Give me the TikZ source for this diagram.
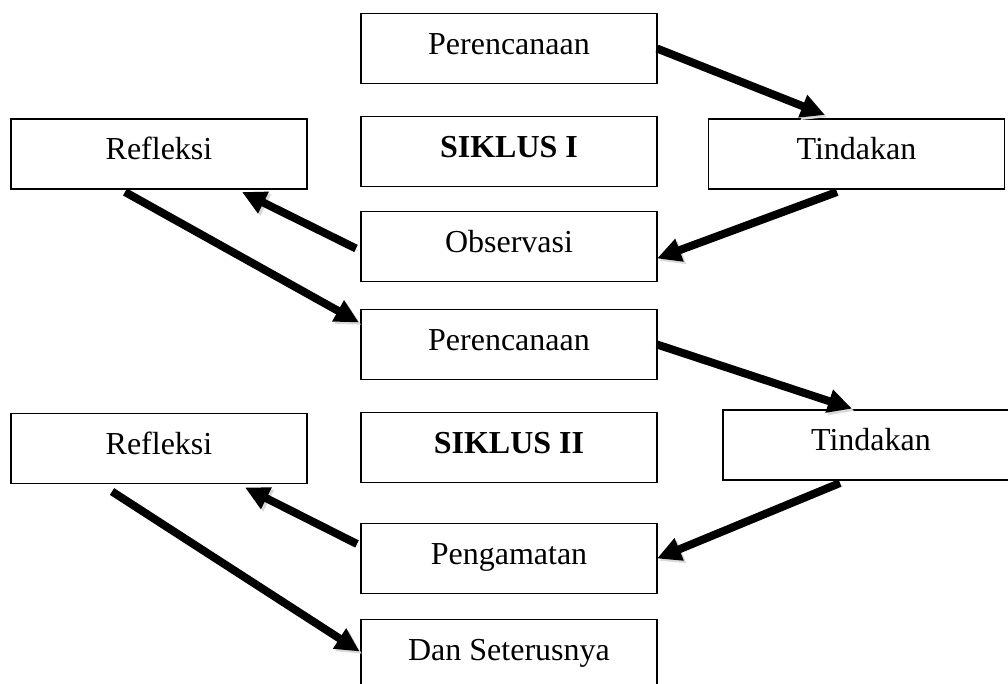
\documentclass[tikz,border=0pt]{standalone}
\usepackage{fontspec}
\setmainfont{Liberation Serif}
\usepackage{tikz}
\usetikzlibrary{arrows.meta,positioning}
\tikzset{
    %Define style for boxes
    kotak/.style={
           rectangle,
           draw=black, line width=1pt,
           minimum width=222pt,
           minimum height=52.5pt,
           inner sep=0pt,
           outer sep=0pt,
           font=\fontsize{24}{28}\selectfont,
           text height=17pt,
           text depth=8.5pt,
           align=center},
    % Define arrow style
    panah/.style={
           -{Triangle[length=18pt,width=17pt]},
           line width=6pt,
           preaction={draw=black!15,
                      transform canvas={shift={(1.8pt,-1.8pt)}}}}
}
\begin{document}
\begin{tikzpicture}[x=0.75pt,y=-0.75pt]
        \useasboundingbox (0,0) rectangle (1008,684);
        \clip (0,0) rectangle (1008,684);
        %nodes
        \node[kotak] (per1) at (509,48.5) {Perencanaan};
        \node[kotak, below=24.75pt of per1] (sik1) {\textbf{SIKLUS I}};
        \node[kotak, below=18.75pt of sik1] (obs) {Observasi};
        \node[kotak, below=21pt of obs] (per2) {Perencanaan};
        \node[kotak, below=24.75pt of per2] (sik2) {\textbf{SIKLUS II}};
        \node[kotak, below=30.75pt of sik2] (pen) {Pengamatan};
        \node[kotak, below=19.5pt of pen] (dan) {Dan Seterusnya};
        \node[kotak] (ref1) at (159,154) {Refleksi};
        \node[kotak] (tin1) at (856.5,154) {Tindakan};
        \node[kotak] (ref2) at (159,448.5) {Refleksi};
        \node[kotak] (tin2) at (871,445) {Tindakan};
        %arrows
        \draw[panah] (per1.east) -- ([xshift=-23.6pt,yshift=3pt]tin1.north);
        \draw[panah] ([xshift=-14.6pt,yshift=-2.25pt]tin1.south) -- ([yshift=-9pt]obs.east);
        \draw[panah] ([xshift=-3.75pt,yshift=-1.5pt]obs.west) -- ([xshift=62.25pt,yshift=-2.25pt]ref1.south);
        \draw[panah] ([xshift=-25.5pt,yshift=-2.25pt]ref1.south) -- ([xshift=-1.5pt,yshift=16.5pt]per2.west);
        \draw[panah] (per2.east) -- ([xshift=-14.25pt,yshift=1pt]tin2.north);
        \draw[panah] ([xshift=-23.25pt,yshift=-2.25pt]tin2.south) -- (pen.east);
        \draw[panah] ([xshift=-3pt,yshift=10.9pt]pen.west) -- ([xshift=64.5pt,yshift=-3pt]ref2.south);
        \draw[panah] ([xshift=-35.25pt,yshift=-6pt]ref2.south) -- ([xshift=-1pt,yshift=2.25pt]dan.west);
\end{tikzpicture}
\end{document}
